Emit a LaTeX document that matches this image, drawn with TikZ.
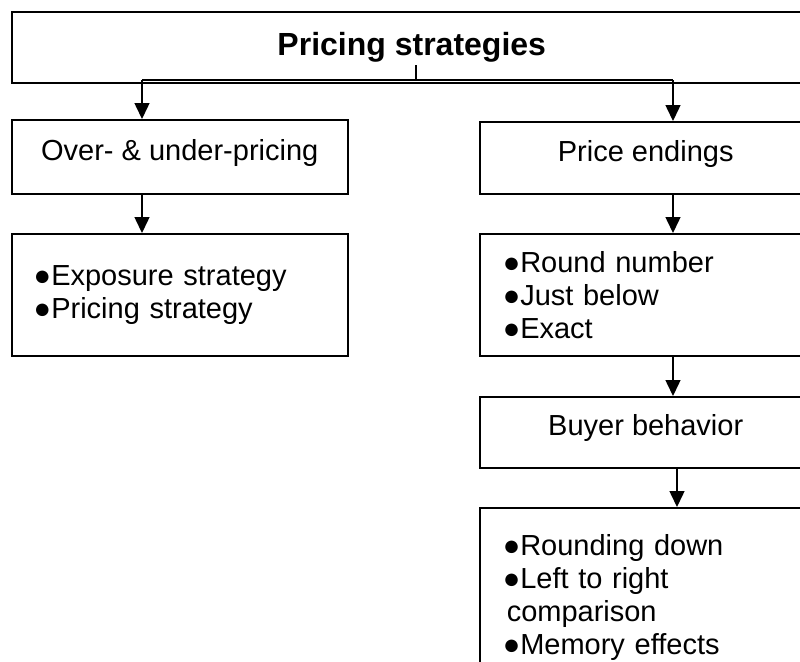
\documentclass[tikz,border=0pt]{standalone}
\usepackage{fontspec}
\setmainfont{Liberation Sans}
\usetikzlibrary{arrows.meta}

\begin{document}
\begin{tikzpicture}[x=0.5pt,y=-0.5pt,
    box/.style={draw,line width=0.75pt,inner sep=0pt,anchor=north west,font=\fontsize{14.5}{16.5}\selectfont},
    headbox/.style={box,text depth=7pt},
    listbox/.style={box,align=left,inner xsep=11.5pt},
    arr/.style={line width=0.75pt,-{Triangle[width=7.5pt,length=8pt]}}]
    \clip (0,0) rectangle (800,661);
    % boxes
    \node[box,minimum width=400pt,minimum height=35.5pt,font=\fontsize{16}{19}\selectfont\bfseries] (top) at (11,11) {Pricing strategies};
    \node[headbox,minimum width=168pt,minimum height=37pt] (over) at (11,119) {Over- \& under-pricing};
    \node[headbox,minimum width=166pt,minimum height=36pt] (price) at (479,121) {Price endings};
    \node[listbox,inner xsep=11pt,text width=146pt,minimum height=61pt] (expo) at (11,233) {●Exposure strategy\\●Pricing strategy};
    \node[listbox,text width=143pt,minimum height=61pt] (ends) at (479,233) {●Round number\\●Just below\\●Exact};
    \node[headbox,minimum width=166pt,minimum height=35.5pt] (buyer) at (479,396) {Buyer behavior};
    \node[listbox,text width=143pt,minimum height=90pt] (effects) at (479,507) {●Rounding down\\●Left to right\\\hspace*{2pt}comparison\\●Memory effects};
    % connectors
    \coordinate (stem) at (416,65);
    \coordinate (fork) at (416,80);
    \coordinate (lx) at (142,0);
    \coordinate (rx) at (673,0);
    \coordinate (bx) at (677,0);
    \draw[line width=0.75pt] (stem) -- (fork);
    \draw[line width=0.75pt] (fork -| lx) -- (fork -| rx);
    \draw[arr] (fork -| lx) -- (over.north -| lx);
    \draw[arr] (fork -| rx) -- (price.north -| rx);
    \draw[arr] (over.south -| lx) -- (expo.north -| lx);
    \draw[arr] (price.south -| rx) -- (ends.north -| rx);
    \draw[arr] (ends.south -| rx) -- (buyer.north -| rx);
    \draw[arr] (buyer.south -| bx) -- (effects.north -| bx);
\end{tikzpicture}
\end{document}
